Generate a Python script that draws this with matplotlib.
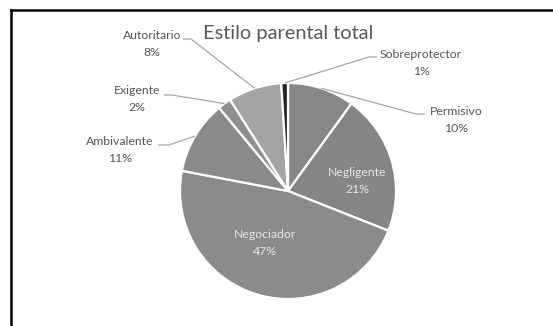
import numpy as np
import matplotlib
matplotlib.use("Agg")
import matplotlib.pyplot as plt

# Parenting style shares (%), clockwise from 12 o'clock
styles = ["Permisivo", "Negligente", "Negociador", "Ambivalente",
          "Exigente", "Autoritario", "Sobreprotector"]
shares = [10, 21, 47, 11, 2, 8, 1]
title = "Estilo parental total"

# Appearance
slice_colors = ["#878787", "#858585", "#8b8b8b", "#8a8a8a",
                "#8f8f8f", "#a4a4a4", "#262626"]
W, H = 553, 326
CX, CY, R = 288, 191, 108          # pie centre / radius in pixels
inside = {"Negligente", "Negociador"}
# label anchor (pixel coords, centre of the two-line label)
label_pos = {
    "Permisivo": (456, 120),
    "Negligente": (357, 181),
    "Negociador": (265, 243),
    "Ambivalente": (120, 150),
    "Exigente": (137, 99),
    "Autoritario": (152, 44),
    "Sobreprotector": (421, 63),
}
# leader lines: start point and elbow next to the label
leader_start = {
    "Permisivo": [(425, 114), (416, 114)],
    "Ambivalente": [(158, 145), (169, 145)],
    "Exigente": [(164, 95), (172, 95)],
    "Autoritario": [(183, 39), (191, 39)],
    "Sobreprotector": [(377, 57), (369, 57)],
}

plt.rcParams["font.family"] = ["Lato", "DejaVu Sans"]

fig = plt.figure(figsize=(W / 100, H / 100), dpi=100)
ax = fig.add_axes([0, 0, 1, 1])


def py(y):
    return H - y


ax.pie(shares, colors=slice_colors, startangle=90, counterclock=False,
       center=(CX, py(CY)), radius=R,
       wedgeprops=dict(edgecolor="white", linewidth=1.6))
ax.set_xlim(0, W)
ax.set_ylim(0, H)
ax.set_aspect("equal")
ax.axis("off")

# leader lines end on the rim at each slice's mid angle
total = float(sum(shares))
cum = 0.0
for name, v in zip(styles, shares):
    mid = (cum + v / 2) / total * 2 * np.pi
    cum += v
    if name in leader_start:
        ex = CX + R * np.sin(mid)
        ey = py(CY) + R * np.cos(mid)
        pts = leader_start[name]
        xs = [p[0] for p in pts] + [ex]
        ys = [py(p[1]) for p in pts] + [ey]
        ax.plot(xs, ys, color="#a6a6a6", lw=0.9, solid_capstyle="butt",
                zorder=3)

for name, v in zip(styles, shares):
    x, y = label_pos[name]
    col = "#e6e6e6" if name in inside else "#555555"
    ax.text(x, py(y), f"{name}\n{v}%", ha="center", va="center",
            fontsize=8.8, color=col, linespacing=1.65, zorder=4)

ax.text(CX, py(33), title, ha="center", va="center", fontsize=14.4,
        color="#595959")

# chart frame (top and left edges)
ax.plot([11, W], [py(10), py(10)], color="black", lw=1.8,
        solid_capstyle="projecting", clip_on=False)
ax.plot([11, 11], [py(10), 0], color="black", lw=1.8,
        solid_capstyle="projecting", clip_on=False)

fig.savefig("out.png", dpi=100, facecolor="white")
